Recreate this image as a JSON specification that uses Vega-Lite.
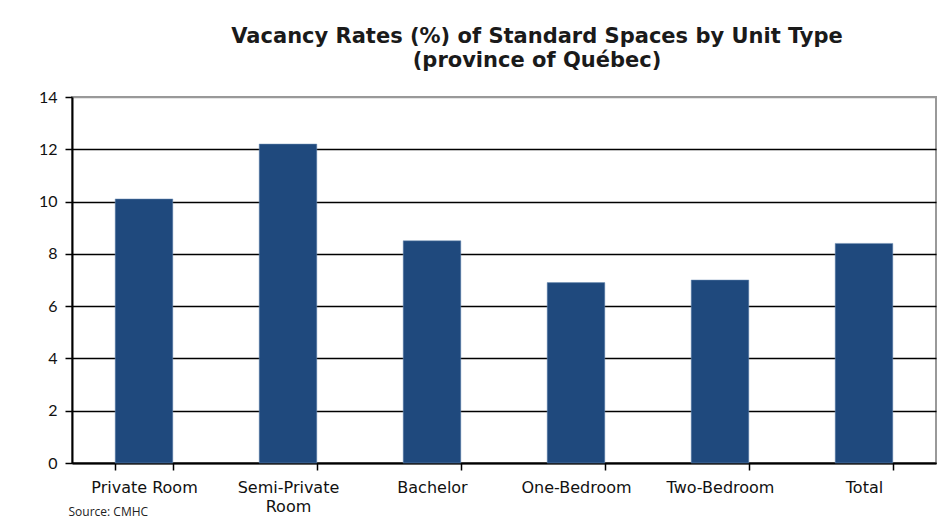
{
  "$schema": "https://vega.github.io/schema/vega-lite/v6.json",
  "autosize": "none",
  "width": 864,
  "height": 366,
  "padding": {"left": 72, "top": 97, "right": 13, "bottom": 62},
  "background": "white",
  "title": {
    "text": ["Vacancy Rates (%) of Standard Spaces by Unit Type", "(province of Québec)"],
    "font": "DejaVu Sans",
    "fontSize": 21,
    "fontWeight": "bold",
    "color": "#1a1a1a",
    "anchor": "middle",
    "dx": 33,
    "offset": 18,
    "lineHeight": 24
  },
  "data": {
    "values": [
      {"unit": "Private Room", "rate": 10.1},
      {"unit": "Semi-Private Room", "rate": 12.2},
      {"unit": "Bachelor", "rate": 8.5},
      {"unit": "One-Bedroom", "rate": 6.9},
      {"unit": "Two-Bedroom", "rate": 7.0},
      {"unit": "Total", "rate": 8.4}
    ]
  },
  "mark": {"type": "bar", "color": "#1f497d", "stroke": "#6f8fb5", "strokeWidth": 0.5},
  "encoding": {
    "x": {
      "field": "unit",
      "type": "nominal",
      "sort": null,
      "scale": {"paddingInner": 0.6, "paddingOuter": 0.3},
      "axis": {
        "title": "Source: CMHC",
        "titleFont": "Open Sans",
        "titleFontSize": 12,
        "titleFontWeight": "normal",
        "titleColor": "#222",
        "titleAnchor": "start",
        "titleAlign": "left",
        "titleBaseline": "top",
        "titleX": -4,
        "titleY": 43,
        "labelAngle": 0,
        "labelFont": "DejaVu Sans",
        "labelFontSize": 16,
        "labelColor": "#111",
        "labelPadding": 9,
        "labelLineHeight": 19,
        "labelExpr": "datum.label == 'Semi-Private Room' ? ['Semi-Private', 'Room'] : datum.label",
        "tickBand": "extent",
        "tickSize": 7,
        "tickColor": "#000",
        "tickWidth": 1.5,
        "domainColor": "#000",
        "domainWidth": 2
      }
    },
    "y": {
      "field": "rate",
      "type": "quantitative",
      "scale": {"domain": [0, 14]},
      "axis": {
        "title": null,
        "values": [0, 2, 4, 6, 8, 10, 12, 14],
        "labelFont": "Lato",
        "labelFontSize": 16,
        "labelColor": "#111",
        "labelPadding": 8,
        "tickSize": 7,
        "tickColor": "#000",
        "tickWidth": 1.5,
        "domainColor": "#000",
        "domainWidth": 2,
        "gridColor": {"expr": "datum.value == 14 ? '#999999' : '#000000'"},
        "gridWidth": 1.5,
        "gridOpacity": 1
      }
    }
  },
  "config": {
    "view": {"stroke": "#999999", "strokeWidth": 2}
  }
}
